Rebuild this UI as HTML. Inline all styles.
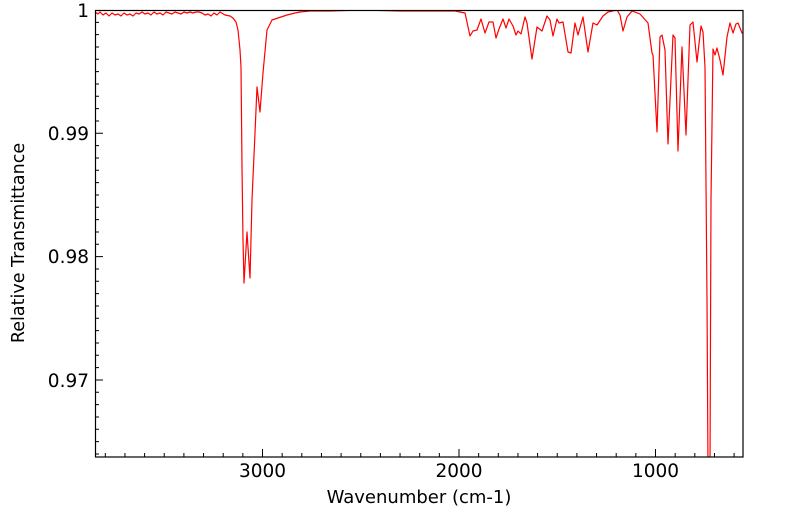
<!DOCTYPE html>
<html><head><meta charset="utf-8"><style>
html,body{margin:0;padding:0;background:#fff;}
svg{display:block;font-family:"DejaVu Sans","Liberation Sans",sans-serif;}
</style></head><body>
<svg width="799" height="516" viewBox="0 0 799 516" xmlns="http://www.w3.org/2000/svg">
<defs><clipPath id="c"><rect x="95" y="10" width="648" height="447"/></clipPath></defs>
<path stroke="#000" stroke-width="1" fill="none" d="
M105.3,457v-4 M124.95,457v-4 M144.6,457v-4 M164.25,457v-4 M183.9,457v-4 M203.55,457v-4 M223.2,457v-4 M242.85,457v-4 M262.5,457v-8 M282.15,457v-4 M301.8,457v-4 M321.45,457v-4 M341.1,457v-4 M360.75,457v-4 M380.4,457v-4 M400.05,457v-4 M419.7,457v-4 M439.35,457v-4 M459,457v-8 M478.65,457v-4 M498.3,457v-4 M517.95,457v-4 M537.6,457v-4 M557.25,457v-4 M576.9,457v-4 M596.55,457v-4 M616.2,457v-4 M635.85,457v-4 M655.5,457v-8 M675.15,457v-4 M694.8,457v-4 M714.45,457v-4 M734.1,457v-4
M95,22.33h4 M95,34.66h4 M95,47h4 M95,59.3h4 M95,71.65h4 M95,84h4 M95,96.3h4 M95,108.6h4 M95,121h4 M95,133.3h8 M95,145.6h4 M95,158h4 M95,170.3h4 M95,182.6h4 M95,195h4 M95,207.3h4 M95,219.6h4 M95,232h4 M95,244.3h4 M95,256.6h8 M95,269h4 M95,281.3h4 M95,293.6h4 M95,306h4 M95,318.3h4 M95,330.6h4 M95,343h4 M95,355.3h4 M95,367.6h4 M95,380h8 M95,392.3h4 M95,404.6h4 M95,417h4 M95,429.3h4 M95,441.6h4 M95,454h4"/>
<polyline clip-path="url(#c)" fill="none" stroke="#f00" stroke-width="1.2" stroke-linejoin="round" points="
95,12 98,14 100,12 103,15 106,13 109,16 112,13 115,15 118,14 121,16 124,13 127,15 130,14 133,16 136,13 139,14 142,12 145,14 148,13 151,15 154,12 157,14 160,13 163,15 166,12 169,13 172,14 175,12 178,13 181,14 184,12 187,13 190,12 193,13 196,12 199,12 202,13 205,15 208,14 211,16 214,13 217,15 220,12 225,15 230,16 233,18 236,22 238,30 240,50 241,67 242,167 243,240 244,283 247,232 250,278 252,200 255,133 257,87 260,112 263,73 267,30 272,20 278,18 287,15 295,13 300,12 310,11 330,11 360,10 400,11 430,11 440,11 455,11 465,13 470,36 473,31 477,30 481,19 485,33 489,22 493,22 496,38 499,29 503,19 506,28 509,19 513,26 516,35 518,31 521,34 525,17 527,23 532,59 537,27 542,31 547,16 550,20 553,36 557,19 559,23 563,22 568,52 571,53 575,23 578,35 583,17 588,52 593,23 597,25 603,16 608,12 617,10 620,15 623,31 627,17 632,11 640,14 648,23 652,53 653,55 657,132 660,37 662,35 665,50 668,144 673,35 675,38 678,151 682,47 686,135 690,25 692,23 693,22 697,62 701,26 703,32 705,67 707,300 708,470 710,470 711,200 713,49 715,55 717,48 720,60 723,75 727,37 730,23 733,33 736,24 738,23 742,33 743,33"/>
<rect x="95.5" y="10.5" width="647.5" height="446.5" fill="none" stroke="#000" stroke-width="1.2"/>
<g font-size="18.5" fill="#000" text-anchor="end">
<text x="89" y="17">1</text>
<text x="89" y="140">0.99</text>
<text x="89" y="263">0.98</text>
<text x="89" y="387">0.97</text>
</g>
<g font-size="18.5" fill="#000" text-anchor="middle">
<text x="262.5" y="477">3000</text>
<text x="459" y="477">2000</text>
<text x="655.5" y="477">1000</text>
<text x="419" y="503" font-size="18">Wavenumber (cm-1)</text>
<text transform="translate(24,243) rotate(-90)" font-size="17.5">Relative Transmittance</text>
</g>
</svg>
</body></html>
